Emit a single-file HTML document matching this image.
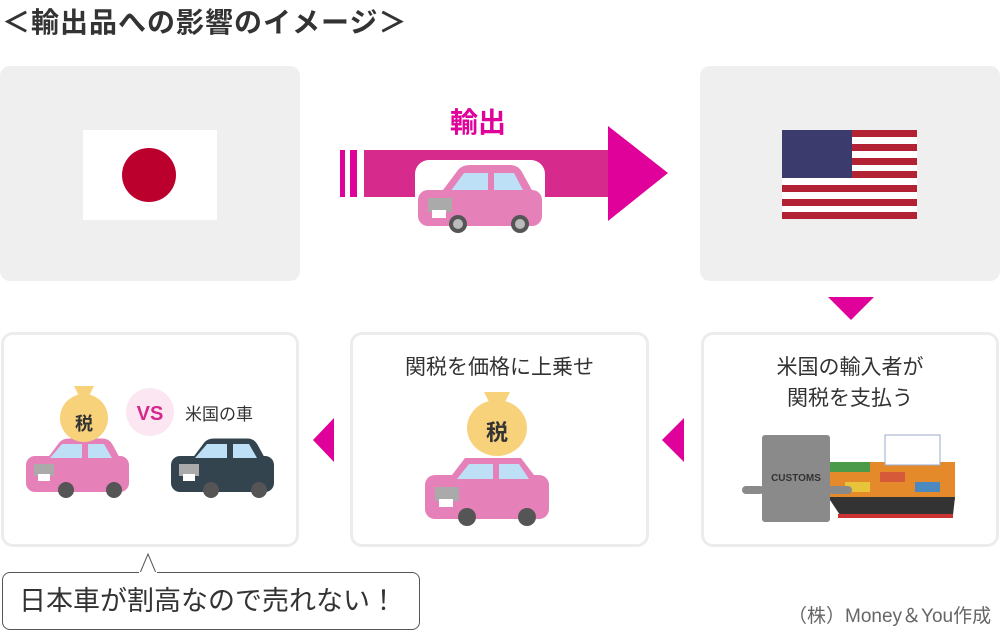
<!DOCTYPE html>
<html><head><meta charset="utf-8"><style>
body{margin:0;width:1000px;height:634px;background:#fff;position:relative;overflow:hidden;font-family:"Liberation Sans","Noto Sans CJK JP",sans-serif;color:#333}
.a{position:absolute}
.gb{background:#efefef;border-radius:10px}
.wb{border:3px solid #ececec;border-radius:12px;box-sizing:border-box;background:#fff}
.t{position:absolute;font-size:21px;text-align:center;line-height:31px;color:#333}
</style></head><body>
<div class="a" style="left:2px;top:1px;font-size:28px;font-weight:bold;color:#333;letter-spacing:1px;white-space:nowrap">＜輸出品への影響のイメージ＞</div>
<div class="a gb" style="left:0;top:66px;width:300px;height:215px"></div>
<div class="a gb" style="left:700px;top:66px;width:300px;height:215px"></div>
<div class="a wb" style="left:1px;top:332px;width:298px;height:215px"></div>
<div class="a wb" style="left:350px;top:332px;width:299px;height:215px"></div>
<div class="a wb" style="left:701px;top:332px;width:298px;height:215px"></div>
<div class="t" style="left:350px;top:352px;width:299px">関税を価格に上乗せ</div>
<div class="t" style="left:701px;top:352px;width:298px">米国の輸入者が<br>関税を支払う</div>
<div class="a" style="left:450px;top:101px;font-size:28px;font-weight:bold;color:#e0009a">輸出</div>
<div class="a" style="left:185px;top:400px;font-size:17px;color:#333">米国の車</div>
<div class="a" style="left:2px;top:572px;width:418px;height:58px;border:1px solid #555;border-radius:8px;box-sizing:border-box;font-size:27px;line-height:56px;padding-left:16px;color:#333;white-space:nowrap">日本車が割高なので売れない！</div>
<div class="a" style="left:788px;top:601px;font-size:19px;color:#666;white-space:nowrap">（株）Money＆You作成</div>
<svg class="a" style="left:0;top:0" width="1000" height="634">
<rect x="83" y="130" width="134" height="90" fill="#fff"/>
<circle cx="149" cy="175" r="27" fill="#bc002d"/>
<rect x="340" y="150" width="5" height="47" fill="#e0009a"/>
<rect x="350" y="150" width="7" height="47" fill="#e0009a"/>
<rect x="364" y="150" width="246" height="47" fill="#d62a8c"/>
<polygon points="608,126 668,173 608,221" fill="#e0009a"/>
<g transform="translate(418,162)"><rect x="-3" y="-2" width="130" height="72" rx="14" fill="#fff"/>
<path d="M22,32 L40,8 Q44,3 52,3 L92,3 Q100,3 104,10 L116,32 Z" fill="#e680b8"/>
<path d="M32,30 L46,11 L70,11 L70,30 Z M76,30 L76,11 L96,11 L106,30 Z" fill="#bde0f7"/>
<rect x="0" y="28" width="124" height="36" rx="10" fill="#e680b8"/>
<rect x="10" y="36" width="24" height="14" fill="#aaa"/><rect x="14" y="48" width="14" height="8" fill="#fff"/>
<circle cx="40" cy="62" r="9" fill="#555"/><circle cx="40" cy="62" r="5" fill="#bbb"/>
<circle cx="102" cy="62" r="9" fill="#555"/><circle cx="102" cy="62" r="5" fill="#bbb"/></g>
<g>
<rect x="782" y="130" width="135" height="89" fill="#fff"/>
<g fill="#b22234">
<rect x="782" y="130" width="135" height="7"/><rect x="782" y="144" width="135" height="7"/><rect x="782" y="158" width="135" height="7"/><rect x="782" y="171" width="135" height="7"/><rect x="782" y="185" width="135" height="7"/><rect x="782" y="199" width="135" height="7"/><rect x="782" y="212" width="135" height="7"/></g>
<rect x="782" y="130" width="70" height="48" fill="#3c3b6e"/>
</g>
<polygon points="828,297 874,297 851,320" fill="#e0009a"/>
<polygon points="684,418 684,462 662,440" fill="#e0009a"/>
<polygon points="334,418 334,462 313,440" fill="#e0009a"/>
<polygon points="140,573 148,554 156,573" fill="#fff" stroke="#555" stroke-width="1"/>
<rect x="139" y="572" width="18" height="3" fill="#fff"/>
<g transform="translate(26,436)">
<path d="M22,32 L40,8 Q44,3 52,3 L92,3 Q100,3 104,10 L116,32 Z" fill="#e680b8" transform="scale(0.83)"/>
<rect x="0" y="20" width="103" height="36" rx="9" fill="#e680b8"/>
<path d="M24,22 L36,8 L56,8 L56,22 Z M62,22 L62,8 L78,8 L86,22 Z" fill="#bde0f7"/>
<rect x="8" y="28" width="20" height="12" fill="#aaa"/><rect x="12" y="38" width="12" height="7" fill="#fff"/>
<circle cx="40" cy="54" r="8" fill="#555"/><circle cx="88" cy="54" r="8" fill="#555"/>
</g>
<g transform="translate(171,436)">
<path d="M22,32 L40,8 Q44,3 52,3 L92,3 Q100,3 104,10 L116,32 Z" fill="#34444e" transform="scale(0.83)"/>
<rect x="0" y="20" width="103" height="36" rx="9" fill="#34444e"/>
<path d="M24,22 L36,8 L56,8 L56,22 Z M62,22 L62,8 L78,8 L86,22 Z" fill="#bde0f7"/>
<rect x="8" y="28" width="20" height="12" fill="#aaa"/><rect x="12" y="38" width="12" height="7" fill="#fff"/>
<circle cx="40" cy="54" r="8" fill="#555"/><circle cx="88" cy="54" r="8" fill="#555"/>
</g>
<ellipse cx="84" cy="418" rx="24" ry="24" fill="#f7d27a"/>
<path d="M74,386 L94,386 L88,398 L80,398 Z" fill="#f7d27a"/>
<text x="84" y="430" font-size="18" font-weight="bold" text-anchor="middle" fill="#333" font-family="Liberation Sans,Noto Sans CJK JP,sans-serif">税</text>
<circle cx="150" cy="412" r="24" fill="#fbe6f2"/>
<text x="150" y="420" font-size="20" font-weight="bold" text-anchor="middle" fill="#d6288c" font-family="Liberation Sans,sans-serif">VS</text>
<g transform="translate(425,455)">
<rect x="0" y="20" width="124" height="44" rx="10" fill="#e680b8"/>
<path d="M24,24 L40,3 L96,3 L112,24 Z" fill="#e680b8"/>
<path d="M32,24 L44,9 L68,9 L68,24 Z M74,24 L74,9 L94,9 L104,24 Z" fill="#bde0f7"/>
<rect x="10" y="32" width="24" height="14" fill="#aaa"/><rect x="14" y="44" width="14" height="8" fill="#fff"/>
<circle cx="42" cy="62" r="9" fill="#555"/><circle cx="102" cy="62" r="9" fill="#555"/>
</g>
<ellipse cx="497" cy="428" rx="30" ry="28" fill="#f7d27a"/>
<path d="M484,392 L510,392 L503,406 L491,406 Z" fill="#f7d27a"/>
<text x="497" y="440" font-size="22" font-weight="bold" text-anchor="middle" fill="#333" font-family="Liberation Sans,Noto Sans CJK JP,sans-serif">税</text>
<rect x="830" y="462" width="125" height="38" fill="#e48a2a"/>
<rect x="830" y="462" width="40" height="10" fill="#4b9a4a"/>
<rect x="880" y="472" width="25" height="10" fill="#d65a3a"/>
<rect x="845" y="482" width="25" height="10" fill="#e8c43a"/>
<rect x="915" y="482" width="25" height="10" fill="#4a8ac0"/>
<rect x="885" y="435" width="55" height="30" fill="#fff" stroke="#9ac" stroke-width="1"/>
<path d="M828,497 L955,497 L953,515 L840,515 Z" fill="#333"/>
<rect x="838" y="514" width="115" height="4" fill="#c33"/>
<rect x="762" y="435" width="68" height="87" rx="3" fill="#8a8a8a"/>
<text x="796" y="481" font-size="10" font-weight="bold" text-anchor="middle" fill="#333" font-family="Liberation Sans,sans-serif">CUSTOMS</text>
<rect x="742" y="486" width="22" height="8" rx="4" fill="#8a8a8a"/>
<rect x="828" y="486" width="24" height="8" rx="4" fill="#8a8a8a"/>
</svg>
</body></html>
